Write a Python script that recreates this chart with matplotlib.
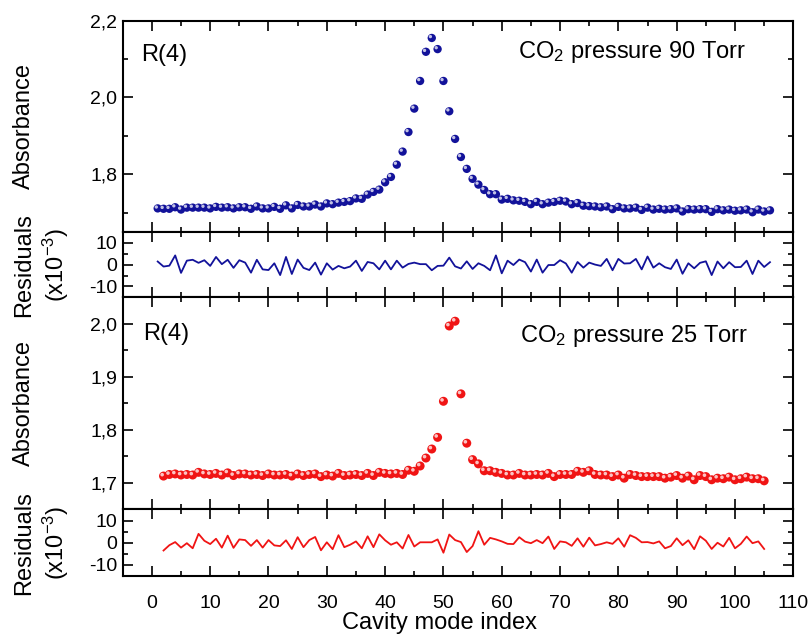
################################################################################
# Absorbancia y residuales de la línea R(4) del CO2 (90 Torr y 25 Torr)
################################################################################

################################################################################
# Librerías
import numpy as np
import matplotlib
matplotlib.use('Agg')
import matplotlib.pyplot as plt
from matplotlib.ticker import MultipleLocator, FuncFormatter
from matplotlib.transforms import offset_copy
################################################################################

################################################################################
# Datos
modo90 = np.arange(1, 107)  # índices de modo, 90 Torr
modo25 = np.arange(2, 106)  # índices de modo, 25 Torr

abs90 = [1.711, 1.710, 1.710, 1.714, 1.708, 1.713, 1.713, 1.713, 1.713, 1.711,
         1.715, 1.713, 1.714, 1.711, 1.714, 1.714, 1.710, 1.716, 1.711, 1.711,
         1.715, 1.710, 1.719, 1.711, 1.720, 1.716, 1.716, 1.721, 1.716, 1.724,
         1.722, 1.726, 1.728, 1.730, 1.737, 1.736, 1.747, 1.754, 1.760, 1.779,
         1.793, 1.825, 1.859, 1.910, 1.971, 2.043, 2.119, 2.155, 2.126, 2.043,
         1.964, 1.892, 1.845, 1.814, 1.788, 1.773, 1.759, 1.748, 1.748, 1.734,
         1.736, 1.732, 1.731, 1.728, 1.722, 1.728, 1.722, 1.726, 1.728, 1.731,
         1.729, 1.722, 1.725, 1.718, 1.717, 1.716, 1.714, 1.716, 1.709, 1.715,
         1.711, 1.711, 1.713, 1.707, 1.713, 1.708, 1.710, 1.708, 1.709, 1.711,
         1.703, 1.709, 1.708, 1.709, 1.709, 1.702, 1.709, 1.706, 1.708, 1.705,
         1.706, 1.708, 1.701, 1.708, 1.703, 1.706]

res90 = [1.4, -0.9, -0.5, 4.2, -3.8, 1.8, 2.2, 0.8, 2.0, -0.6,
         3.5, 0.2, 2.2, -1.5, 2.0, 0.9, -3.7, 2.2, -2.2, -2.5,
         0.6, -4.8, 3.5, -4.3, 2.3, -1.5, -2.5, 0.9, -4.6, 0.6,
         -2.3, -0.6, -1.7, -0.9, 1.8, -2.9, 1.2, 0.6, -2.2, 1.8,
         -2.2, 1.8, -1.4, 0.3, 0.9, 0.2, 0.2, -2.6, -0.6, -0.5,
         3.2, -0.8, -1.8, 1.5, -2.0, 0.6, -0.6, -2.6, 4.2, -4.0,
         1.8, -0.2, 2.3, 1.1, -3.2, 2.3, -3.7, -0.2, -0.2, 2.0,
         0.5, -3.7, 1.2, -1.4, 0.9, 0.0, -0.6, 2.6, -2.6, 2.6,
         0.5, 0.6, 2.6, -2.2, 3.7, -1.4, 0.6, -1.2, -2.0, 2.3,
         -4.2, 0.6, -1.7, 0.8, 1.5, -4.8, 1.4, -1.7, 1.1, -1.2,
         -1.1, 1.8, -4.3, 1.8, -1.1, 1.1]

abs25 = [1.713, 1.716, 1.717, 1.715, 1.716, 1.715, 1.720, 1.717, 1.716, 1.718,
         1.715, 1.719, 1.714, 1.717, 1.717, 1.715, 1.716, 1.714, 1.717, 1.715,
         1.715, 1.716, 1.713, 1.717, 1.714, 1.716, 1.717, 1.712, 1.715, 1.713,
         1.718, 1.714, 1.715, 1.716, 1.714, 1.718, 1.714, 1.720, 1.718, 1.717,
         1.718, 1.716, 1.724, 1.722, 1.732, 1.747, 1.764, 1.786, 1.854, 1.996,
         2.005, 1.868, 1.775, 1.744, 1.736, 1.723, 1.723, 1.720, 1.718, 1.715,
         1.715, 1.718, 1.715, 1.715, 1.716, 1.715, 1.718, 1.712, 1.716, 1.716,
         1.716, 1.722, 1.720, 1.723, 1.716, 1.715, 1.715, 1.712, 1.715, 1.709,
         1.716, 1.714, 1.712, 1.712, 1.712, 1.712, 1.709, 1.711, 1.714, 1.709,
         1.713, 1.706, 1.714, 1.712, 1.706, 1.709, 1.708, 1.711, 1.706, 1.708,
         1.711, 1.708, 1.708, 1.704]

res25 = [-3.5, -1.1, 0.3, -2.2, -0.2, -2.5, 4.0, 0.9, -0.6, 1.8,
         -2.2, 3.2, -2.3, 1.5, 1.2, -1.4, 1.2, -2.2, 1.2, -1.2,
         -1.5, 1.1, -2.8, 2.5, -2.0, 1.2, 2.6, -3.4, 0.2, -2.9,
         3.4, -2.0, -0.9, 0.6, -2.5, 2.9, -2.0, 3.8, 1.1, -0.9,
         0.2, -2.6, 3.5, -1.7, 0.2, 0.2, 0.2, 1.5, -4.5, 3.7,
         1.2, 0.3, -4.2, -1.5, 5.2, -0.9, 2.2, 1.5, 0.6, -0.5,
         -0.6, 2.5, 0.5, -0.2, 1.2, -0.2, 2.8, -2.8, 0.6, 0.2,
         -1.4, 2.0, -1.8, 2.3, -1.2, -0.6, 0.2, -0.5, 2.0, -1.8,
         3.4, 2.2, 0.2, 0.3, -0.3, 0.6, -2.5, -1.5, 2.0, -1.1,
         1.1, -2.9, 2.9, 0.9, -2.8, 0.0, -1.7, 2.2, -2.5, -0.5,
         2.8, -0.2, 0.6, -2.8]
################################################################################

################################################################################
# Estilo general
plt.rcParams['font.family'] = ['Liberation Sans', 'DejaVu Sans']
plt.rcParams['mathtext.fontset'] = 'custom'
plt.rcParams['mathtext.rm'] = 'Liberation Sans'
plt.rcParams['mathtext.it'] = 'Liberation Sans:italic'
plt.rcParams['axes.unicode_minus'] = False
plt.rcParams['axes.linewidth'] = 1.5

azul = '#12129a'
rojo = '#f01414'

coma = FuncFormatter(lambda v, pos: f'{v:.1f}'.replace('.', ','))

fig = plt.figure(figsize=(8.1, 6.35), dpi=100)
gs = fig.add_gridspec(4, 1, height_ratios=[211, 65.5, 212, 66.5], hspace=0,
                      left=0.1515, right=0.9794, top=0.9674, bottom=0.0929)
ax1 = fig.add_subplot(gs[0])
ax2 = fig.add_subplot(gs[1], sharex=ax1)
ax3 = fig.add_subplot(gs[2], sharex=ax1)
ax4 = fig.add_subplot(gs[3], sharex=ax1)


# Puntos con brillo (esferas)
def esferas(ax, x, y, color, tam):
  ax.scatter(x, y, s=tam, color=color, edgecolors='none', zorder=3)
  brillo = offset_copy(ax.transData, fig=fig, x=-1.0, y=1.0, units='points')
  ax.scatter(x, y, s=tam * 0.16, color='white', alpha=0.75, edgecolors='none',
             zorder=4, transform=brillo)


esferas(ax1, modo90, abs90, azul, 36)
ax2.plot(modo90, res90, color=azul, lw=1.3)
esferas(ax3, modo25, abs25, rojo, 42)
ax4.plot(modo25, res25, color=rojo, lw=1.3)

# Ejes
ax1.set_xlim(-5, 110)
ax1.set_ylim(1.65, 2.2)
ax1.yaxis.set_major_locator(MultipleLocator(0.2))
ax1.yaxis.set_minor_locator(MultipleLocator(0.1))
ax1.yaxis.set_major_formatter(coma)

ax3.set_ylim(1.65, 2.05)
ax3.yaxis.set_major_locator(MultipleLocator(0.1))
ax3.yaxis.set_minor_locator(MultipleLocator(0.05))
ax3.yaxis.set_major_formatter(coma)

for ax in (ax2, ax4):
  ax.set_ylim(-15, 15)
  ax.yaxis.set_major_locator(MultipleLocator(10))
  ax.yaxis.set_minor_locator(MultipleLocator(5))

for ax in (ax1, ax2, ax3, ax4):
  ax.xaxis.set_major_locator(MultipleLocator(10))
  ax.xaxis.set_minor_locator(MultipleLocator(5))
  ax.tick_params(which='both', direction='in', top=True, right=True,
                 labelsize=14, width=1.2, pad=4)
  ax.tick_params(which='major', length=7)
  ax.tick_params(which='minor', length=3.5)
  if ax is not ax4:
    ax.tick_params(labelbottom=False)

ax4.tick_params(axis='x', pad=14)

# Textos dentro de los paneles
ax1.text(0.027, 0.811, 'R(4)', transform=ax1.transAxes, fontsize=17, va='baseline')
ax1.text(0.589, 0.823, 'CO$_2$ pressure 90 Torr', transform=ax1.transAxes,
         fontsize=17, va='baseline')
ax3.text(0.031, 0.797, 'R(4)', transform=ax3.transAxes, fontsize=17, va='baseline')
ax3.text(0.593, 0.788, 'CO$_2$ pressure 25 Torr', transform=ax3.transAxes,
         fontsize=17, va='baseline')

# Etiquetas de los ejes
for ax, nombre in ((ax1, 'Absorbance'), (ax3, 'Absorbance')):
  p = ax.get_position()
  fig.text(24 / 810, (p.y0 + p.y1) / 2, nombre, rotation=90, fontsize=17,
           ha='center', va='center')
for ax in (ax2, ax4):
  p = ax.get_position()
  fig.text(24 / 810, (p.y0 + p.y1) / 2, 'Residuals', rotation=90, fontsize=17,
           ha='center', va='center')
  fig.text(56 / 810, (p.y0 + p.y1) / 2, '(x10$^{-3}$)', rotation=90, fontsize=17,
           ha='center', va='center')

fig.text(440 / 810, 1 - 629 / 635, 'Cavity mode index', fontsize=17,
         ha='center', va='baseline')

plt.savefig('out.png', dpi=100)
